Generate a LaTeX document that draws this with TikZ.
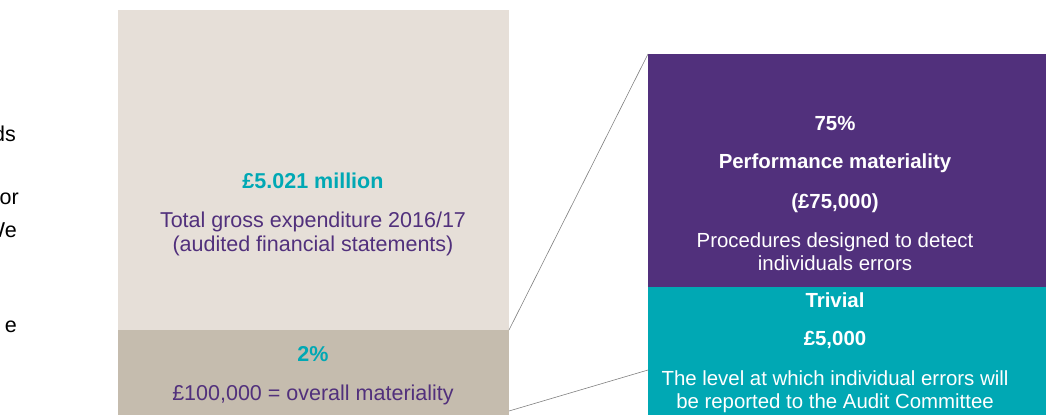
\documentclass[tikz,border=0pt]{standalone}
\usepackage{fontspec}
\setmainfont{Liberation Sans}
\definecolor{sand}{HTML}{E6DFD8}
\definecolor{darksand}{HTML}{C5BCAE}
\definecolor{plum}{HTML}{51307C}
\definecolor{aqua}{HTML}{00A8B4}
\tikzset{
	block/.style={draw=none, inner sep=0pt, outer sep=0pt, anchor=north west},
	words/.style={font=\fontsize{21.5}{23.5}\selectfont, align=center, inner sep=0pt, anchor=base},
	heavy/.style={words, font=\fontsize{21.5}{23.5}\selectfont\bfseries},
	small/.style={font=\fontsize{20.4}{23}\selectfont},
	smallheavy/.style={font=\fontsize{20.4}{23}\selectfont\bfseries},
	link/.style={draw=gray, line width=0.6pt},
}
\begin{document}
\begin{tikzpicture}[x=1pt,y=-1pt]
		\useasboundingbox (0,0) rectangle (1046,415);
		% cut-off text at the left edge
		\node[words, anchor=base east] (frag1) at (16,141) {ds};
		\node[words, anchor=base east] (frag2) at (19,204) {or};
		\node[words, anchor=base east] (frag3) at (17,237) {We};
		\node[words, anchor=base east] (frag4) at (17,332) {e};
		
		\node[block, fill=sand, minimum width=391pt, minimum height=320pt] (total) at (118,10) {};
		\node[block, fill=darksand, minimum width=391pt, minimum height=85pt] (overall) at (118,330) {};
		\node[block, fill=plum, minimum width=398pt, minimum height=233pt] (perf) at (648,54) {};
		\node[block, fill=aqua, minimum width=398pt, minimum height=128pt] (trivial) at (648,287) {};
		
		% base of a two-line text is its last line
		\node[heavy, text=aqua] (totalval) at (313,188) {£5.021 million};
		\node[words, text=plum] (totaltxt) at (313,251) {Total gross expenditure 2016/17\\(audited financial statements)};
		\node[heavy, text=aqua] (overallpct) at (313,361) {2\%};
		\node[words, text=plum] (overalltxt) at (313,400) {£100,000 = overall materiality};
		
		\node[heavy, smallheavy, text=white] (perfpct) at (835,130) {75\%};
		\node[heavy, smallheavy, text=white] (perfname) at (835,168) {Performance materiality};
		\node[heavy, smallheavy, text=white] (perfval) at (835,208) {(£75,000)};
		\node[words, small, text=white] (perftxt) at (835,270) {Procedures designed to detect\\individuals errors};
		\node[heavy, smallheavy, text=white] (trivname) at (835,307) {Trivial};
		\node[heavy, smallheavy, text=white] (trivval) at (835,345) {£5,000};
		\node[words, small, text=white] (trivtxt) at (835,408) {The level at which individual errors will\\be reported to the Audit Committee};
		
		\coordinate (lowfoot) at (509,411);
		\coordinate (lowtip) at (648,370);
		\draw[link] (overall.north east) -- (perf.north west);
		\draw[link] (lowfoot) -- (lowtip);
	\end{tikzpicture}
\end{document}
